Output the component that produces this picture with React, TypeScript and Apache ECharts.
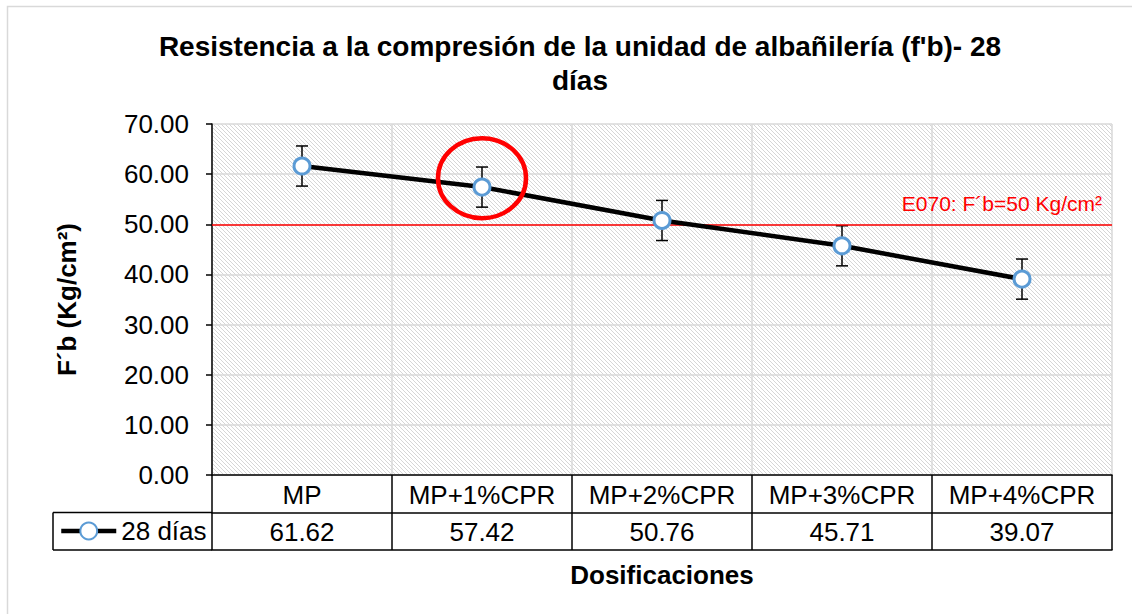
import React, { useEffect, useRef } from "react";
import * as echarts from "echarts";

const categories = ["MP", "MP+1%CPR", "MP+2%CPR", "MP+3%CPR", "MP+4%CPR"];
const values = [61.62, 57.42, 50.76, 45.71, 39.07];
const errors = [4, 4, 4, 4, 4];
const seriesName = "28 días";
const titleLine1 = "Resistencia a la compresión de la unidad de albañilería (f'b)- 28";
const titleLine2 = "días";
const yAxisName = "F´b (Kg/cm²)";
const xAxisName = "Dosificaciones";
const limitValue = 50;
const limitLabel = "E070: F´b=50 Kg/cm²";
const highlightIndex = 1;
const highlightCenterValue = 59.2;

const FONT = "'Liberation Sans', Arial, sans-serif";
const GRID = { left: 212, top: 124, width: 900, height: 351 };
const ROW = 37.5;

function hatchLines() {
  const L = GRID.left, T = GRID.top, R = GRID.left + GRID.width, B = GRID.top + GRID.height;
  const out: any[] = [];
  const step = 4;
  for (let c = L - GRID.height; c < R; c += step) {
    const y1 = Math.max(T, T + (L - c));
    const y2 = Math.min(B, T + (R - c));
    if (y2 <= y1) continue;
    out.push({
      type: "line",
      silent: true,
      z: -10,
      shape: { x1: c + (y1 - T), y1, x2: c + (y2 - T), y2 },
      style: { stroke: "#d6d6d6", lineWidth: 1 },
    });
  }
  return out;
}

export default function App() {
  const ref = useRef<HTMLDivElement>(null);
  useEffect(() => {
    document.body.style.margin = "0";
    const chart = echarts.init(ref.current!, null, { renderer: "svg" });
    const bottomY = GRID.top + GRID.height;
    const baseGraphic: any[] = [
      {
        type: "rect",
        silent: true,
        shape: { x: 7.5, y: 6.5, width: 1300, height: 800 },
        style: { fill: "none", stroke: "#d9d9d9", lineWidth: 1.5 },
      },
      ...hatchLines(),
      {
        type: "line",
        shape: { x1: 53, y1: bottomY + ROW, x2: GRID.left, y2: bottomY + ROW },
        style: { stroke: "#000", lineWidth: 1.5 },
      },
      {
        type: "line",
        shape: { x1: 53, y1: bottomY + 2 * ROW, x2: GRID.left, y2: bottomY + 2 * ROW },
        style: { stroke: "#000", lineWidth: 1.5 },
      },
      {
        type: "line",
        shape: { x1: 53, y1: bottomY + ROW, x2: 53, y2: bottomY + 2 * ROW },
        style: { stroke: "#000", lineWidth: 1.5 },
      },
    ];
    const titleStyle = { fontFamily: FONT, fontSize: 28, fontWeight: "bold", color: "#000" };
    const option: any = {
      animation: false,
      backgroundColor: "#ffffff",
      textStyle: { fontFamily: FONT },
      title: [
        { text: titleLine1, left: 575, top: 27, textAlign: "center", textStyle: titleStyle },
        { text: titleLine2, left: 575, top: 61, textAlign: "center", textStyle: titleStyle },
      ],
      legend: {
        data: [seriesName],
        left: 59,
        top: 518,
        padding: 0,
        itemWidth: 55,
        itemHeight: 21,
        lineStyle: { color: "#000", width: 4.5 },
        textStyle: { fontFamily: FONT, fontSize: 26, color: "#000" },
      },
      grid: { ...GRID, containLabel: false },
      xAxis: [
        {
          type: "category",
          data: categories,
          position: "bottom",
          axisLine: { show: true, lineStyle: { color: "#000", width: 1.5 } },
          axisTick: { show: true, interval: 0, length: 2 * ROW, inside: false, lineStyle: { color: "#000", width: 1.5 } },
          axisLabel: { interval: 0, fontFamily: FONT, fontSize: 26, color: "#000", margin: 7 },
          splitLine: { show: true, interval: 0, lineStyle: { color: "#d9d9d9", width: 1.5 } },
        },
        {
          type: "category",
          data: values.map((v) => v.toFixed(2)),
          position: "bottom",
          offset: ROW,
          axisLine: { show: true, lineStyle: { color: "#000", width: 1.5 } },
          axisTick: { show: false },
          axisLabel: { interval: 0, fontFamily: FONT, fontSize: 26, color: "#000", margin: 6 },
          splitLine: { show: false },
        },
        {
          type: "category",
          data: categories,
          position: "bottom",
          offset: 2 * ROW,
          axisLine: { show: true, lineStyle: { color: "#000", width: 1.5 } },
          axisTick: { show: false },
          axisLabel: { show: false },
          splitLine: { show: false },
          name: xAxisName,
          nameLocation: "middle",
          nameGap: 12,
          nameTextStyle: { fontFamily: FONT, fontSize: 26, fontWeight: "bold", color: "#000" },
        },
      ],
      yAxis: {
        type: "value",
        min: 0,
        max: 70,
        interval: 10,
        name: yAxisName,
        nameLocation: "middle",
        nameGap: 132,
        nameRotate: 90,
        nameTextStyle: { fontFamily: FONT, fontSize: 26, fontWeight: "bold", color: "#000" },
        axisLine: { show: true, lineStyle: { color: "#000", width: 1.5 } },
        axisTick: { show: true, length: 6, inside: false, lineStyle: { color: "#000", width: 1.5 } },
        axisLabel: {
          fontFamily: FONT,
          fontSize: 26,
          color: "#000",
          margin: 23,
          formatter: (v: number) => v.toFixed(2),
        },
        splitLine: { show: true, lineStyle: { color: "#d9d9d9", width: 1.5 } },
      },
      series: [
        {
          type: "custom",
          name: "error",
          xAxisIndex: 0,
          yAxisIndex: 0,
          z: 1,
          data: values.map((v, i) => [i, v - errors[i], v + errors[i]]),
          encode: { x: 0, y: [1, 2] },
          renderItem: (params: any, api: any) => {
            const x = api.value(0);
            const lo = api.coord([x, api.value(1)]);
            const hi = api.coord([x, api.value(2)]);
            const hw = 6;
            const st = { stroke: "#000", lineWidth: 1.5 };
            return {
              type: "group",
              children: [
                { type: "line", shape: { x1: lo[0], y1: lo[1], x2: hi[0], y2: hi[1] }, style: st },
                { type: "line", shape: { x1: lo[0] - hw, y1: lo[1], x2: lo[0] + hw, y2: lo[1] }, style: st },
                { type: "line", shape: { x1: hi[0] - hw, y1: hi[1], x2: hi[0] + hw, y2: hi[1] }, style: st },
              ],
            };
          },
        },
        {
          type: "line",
          name: seriesName,
          xAxisIndex: 0,
          yAxisIndex: 0,
          data: values,
          z: 3,
          symbol: "circle",
          symbolSize: 16,
          showAllSymbol: true,
          lineStyle: { color: "#000", width: 4.5 },
          itemStyle: { color: "#ffffff", borderColor: "#5B9BD5", borderWidth: 3 },
          markLine: {
            silent: true,
            symbol: ["none", "none"],
            data: [{ yAxis: limitValue }],
            lineStyle: { color: "#FF0000", width: 1.5, type: "solid" },
            label: {
              show: true,
              position: "insideEndTop",
              formatter: limitLabel,
              color: "#FF0000",
              fontFamily: FONT,
              fontSize: 21,
              distance: 10,
            },
            z: 2,
          },
        },
      ],
      graphic: baseGraphic,
    };
    chart.setOption(option);
    const c = chart.convertToPixel({ xAxisIndex: 0, yAxisIndex: 0 }, [highlightIndex, highlightCenterValue]) as number[];
    chart.setOption({
      graphic: [
        ...baseGraphic,
        {
          type: "ellipse",
          silent: true,
          z: 10,
          shape: { cx: c[0], cy: c[1], rx: 44, ry: 40 },
          style: { fill: "none", stroke: "#FF0000", lineWidth: 4.5 },
        },
      ],
    });
    return () => chart.dispose();
  }, []);
  return <div ref={ref} style={{ position: "fixed", left: 0, top: 0, width: 1132, height: 614 }} />;
}
